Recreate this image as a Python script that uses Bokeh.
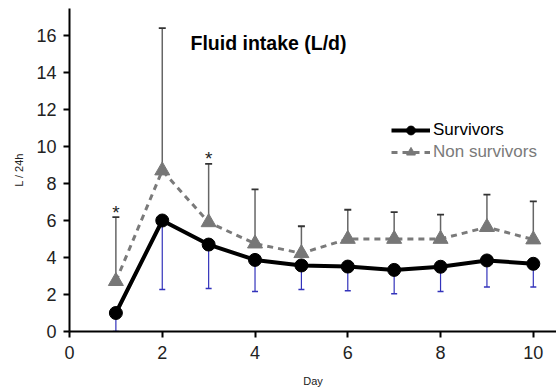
from bokeh.plotting import figure
from bokeh.models import ColumnDataSource, Legend, LegendItem, Label, Range1d, FixedTicker
from bokeh.core.properties import value
from bokeh.embed import file_html
from bokeh.resources import INLINE

days = [1, 2, 3, 4, 5, 6, 7, 8, 9, 10]
surv_mean = [1.0, 6.0, 4.7, 3.87, 3.57, 3.51, 3.33, 3.5, 3.84, 3.66]
surv_low = [0.0, 2.27, 2.32, 2.16, 2.27, 2.2, 2.04, 2.16, 2.4, 2.4]
non_mean = [2.72, 8.7, 5.9, 4.75, 4.23, 5.0, 5.0, 5.0, 5.64, 4.97]
non_high = [6.18, 16.4, 9.06, 7.68, 5.69, 6.58, 6.45, 6.32, 7.4, 7.03]
star_days = [1, 3]
star_y = [6.18, 9.06]
y_ticks = [0, 2, 4, 6, 8, 10, 12, 14, 16]
x_ticks = [0, 2, 4, 6, 8, 10]

FONT = "Liberation Sans"

src = ColumnDataSource(dict(day=days, sm=surv_mean, sl=surv_low, nm=non_mean, nh=non_high))

p = figure(width=556, height=392, output_backend="svg", toolbar_location=None,
           x_range=Range1d(0, 10.5), y_range=Range1d(0, 17.46),
           min_border_left=69, min_border_right=0, min_border_top=8, min_border_bottom=61)
p.outline_line_color = None
p.grid.visible = False
p.background_fill_color = "white"

for ax in (p.xaxis, p.yaxis):
    ax.axis_line_width = 2
    ax.axis_line_color = "black"
    ax.major_tick_line_width = 2
    ax.major_tick_line_color = "black"
    ax.major_tick_out = 6
    ax.major_tick_in = 0
    ax.minor_tick_line_color = None
    ax.major_label_text_font = FONT
    ax.major_label_text_font_size = "18px"
    ax.major_label_text_color = "#222222"
    ax.axis_label_text_font = FONT
    ax.axis_label_text_font_size = "11px"
    ax.axis_label_text_font_style = "normal"
    ax.axis_label_text_color = "#222222"

p.yaxis.ticker = FixedTicker(ticks=y_ticks)
p.xaxis.ticker = FixedTicker(ticks=x_ticks)
p.yaxis.axis_label = "L / 24h"
p.xaxis.axis_label = "Day"
p.yaxis.axis_label_standoff = 8
p.xaxis.axis_label_standoff = 13
p.yaxis.major_label_standoff = 7
p.xaxis.major_label_standoff = 8

# error bars
p.segment(x0="day", y0="sm", x1="day", y1="sl", source=src, line_color="#3333bb", line_width=1.2)
p.scatter(x="day", y="sl", source=src, marker="dash", size=6, line_color="#3333bb", line_width=1.5)
p.segment(x0="day", y0="nm", x1="day", y1="nh", source=src, line_color="#666666", line_width=1.5)
p.scatter(x="day", y="nh", source=src, marker="dash", size=7, line_color="#333333", line_width=1.8)

# lines
nl = p.line(x="day", y="nm", source=src, line_color="#7a7a7a", line_width=3, line_dash="6 5")
nt = p.scatter(x="day", y="nm", source=src, marker="triangle", size=15, fill_color="#777777",
               line_color="#777777")
sl = p.line(x="day", y="sm", source=src, line_color="black", line_width=4)
sc = p.scatter(x="day", y="sm", source=src, marker="circle", size=13, fill_color="black",
               line_color="black")

# asterisks
p.text(x=star_days, y=star_y, text=["*", "*"], text_font=value(FONT), text_font_size="19px",
       text_align="center", text_baseline="middle", y_offset=-5, text_color="#222222")

title = Label(x=121, y=289, x_units="screen", y_units="screen", text="Fluid intake (L/d)",
              text_font=FONT, text_font_size="19.5px", text_font_style="bold",
              text_baseline="middle", text_color="black")
p.add_layout(title)

leg1 = Legend(items=[LegendItem(label="Survivors", renderers=[sl, sc])],
              location=(322, 190), orientation="vertical", padding=0, margin=0, spacing=0,
              glyph_width=39, glyph_height=22, label_standoff=3, background_fill_alpha=0,
              border_line_color=None, label_text_font=FONT, label_text_font_size="17px",
              label_text_color="black", label_height=22)
leg2 = Legend(items=[LegendItem(label="Non survivors", renderers=[nl, nt])],
              location=(322, 168), orientation="vertical", padding=0, margin=0, spacing=0,
              glyph_width=39, glyph_height=22, label_standoff=3, background_fill_alpha=0,
              border_line_color=None, label_text_font=FONT, label_text_font_size="17px",
              label_text_color="#7a7a7a", label_height=22)
p.add_layout(leg1)
p.add_layout(leg2)

open("out.html", "w").write(file_html(p, INLINE))
